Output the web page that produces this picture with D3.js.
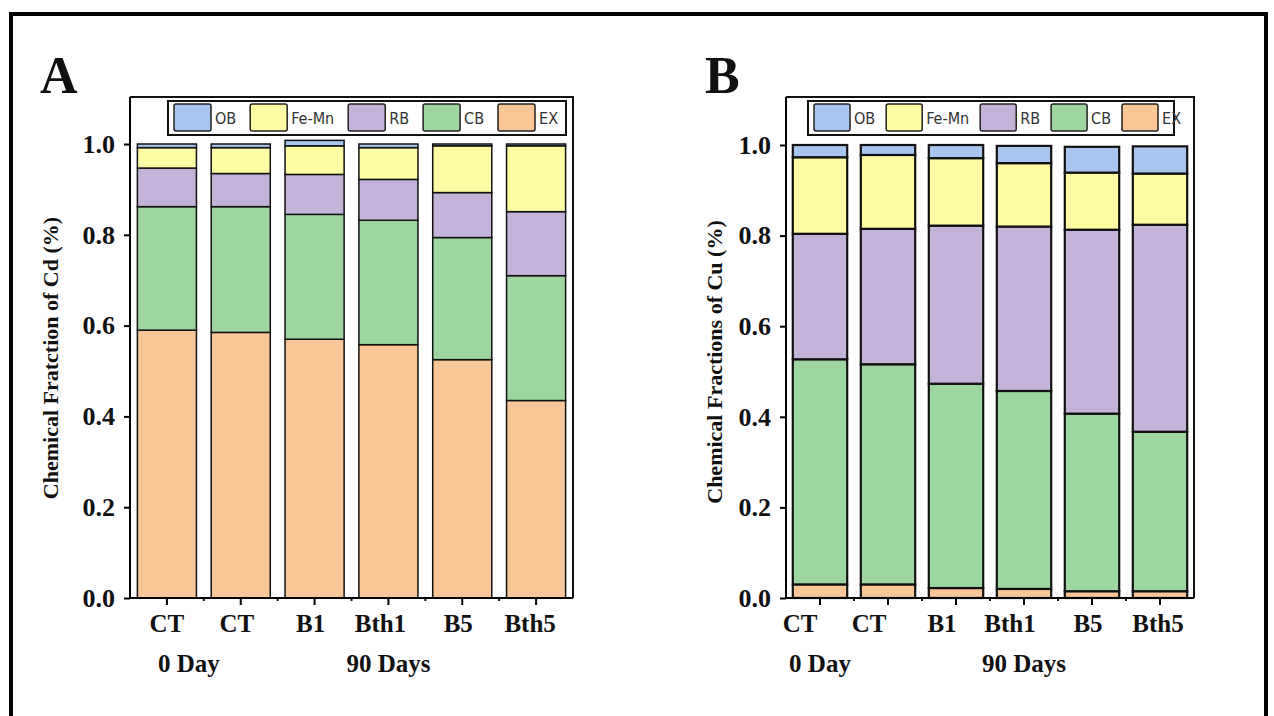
<!DOCTYPE html>
<html>
<head>
<meta charset="utf-8">
<script src="https://cdn.jsdelivr.net/npm/d3@7"></script>
<style>
	html, body { margin: 0; padding: 0; background: #fff; }
	svg { display: block; }
</style>
</head>
<body>
<svg id="chart" width="1274" height="716"></svg>
<script>
var categories = ['CT', 'CT', 'B1', 'Bth1', 'B5', 'Bth5'];
var fractions = ['EX', 'CB', 'RB', 'Fe-Mn', 'OB']; // bottom -> top
var legendOrder = ['OB', 'Fe-Mn', 'RB', 'CB', 'EX'];
var groupLabels = ['0 Day', '90 Days'];
var groupAt = [0, 3];
var yTicks = [0, 0.2, 0.4, 0.6, 0.8, 1.0];

// Cd (panel A)
var cdEX = [0.590, 0.585, 0.570, 0.558, 0.525, 0.435];
var cdCB = [0.272, 0.277, 0.275, 0.274, 0.269, 0.275];
var cdRB = [0.085, 0.073, 0.088, 0.090, 0.099, 0.141];
var cdFeMn = [0.045, 0.057, 0.063, 0.070, 0.103, 0.145];
var cdOB = [0.008, 0.008, 0.012, 0.008, 0.004, 0.004];

// Cu (panel B)
var cuEX = [0.030, 0.030, 0.022, 0.020, 0.015, 0.015];
var cuCB = [0.497, 0.486, 0.451, 0.437, 0.392, 0.352];
var cuRB = [0.277, 0.299, 0.349, 0.363, 0.406, 0.457];
var cuFeMn = [0.169, 0.163, 0.149, 0.140, 0.126, 0.113];
var cuOB = [0.027, 0.022, 0.029, 0.038, 0.057, 0.060];

var colors = { 'OB': '#a7c5ef', 'Fe-Mn': '#fdfba3', 'RB': '#c3b3d9', 'CB': '#9dd69e', 'EX': '#f8c697' };

var serif = "'Liberation Serif', 'Times New Roman', serif";
var narrow = "'Liberation Sans Narrow', 'DejaVu Sans Condensed', 'Liberation Sans', sans-serif";

var svg = d3.select('#chart');

// outer frame
svg.append('path')
	.attr('d', 'M11,716 L11,14 L1266,14 L1266,716')
	.attr('fill', 'none')
	.attr('stroke', '#000')
	.attr('stroke-width', 4);

function drawPanel(cfg) {
	var g = svg.append('g');
	var rows = categories.map(function(c, i) {
		var r = { i: i, cat: c };
		fractions.forEach(function(f) { r[f] = cfg.values[f][i]; });
		return r;
	});

	var x = d3.scaleBand().domain(d3.range(categories.length))
		.range([cfg.left, cfg.right]).paddingInner(0.2).paddingOuter(0.1);
	var y = d3.scaleLinear().domain([0, 1]).range([cfg.y0, cfg.y1]);

	var series = d3.stack().keys(fractions)(rows);

	// bars
	g.selectAll('g.layer')
		.data(series)
		.enter().append('g')
		.attr('class', 'layer')
		.attr('fill', function(d) { return colors[d.key]; })
		.selectAll('rect')
		.data(function(d) { return d; })
		.enter().append('rect')
		.attr('x', function(d) { return x(d.data.i); })
		.attr('width', x.bandwidth())
		.attr('y', function(d) { return y(d[1]); })
		.attr('height', function(d) { return Math.max(0, y(d[0]) - y(d[1])); })
		.attr('stroke', '#111')
		.attr('stroke-width', cfg.barStroke);

	// frame (top + right)
	g.append('path')
		.attr('d', 'M' + cfg.left + ',' + cfg.top + 'H' + cfg.right + 'V' + cfg.y0)
		.attr('fill', 'none').attr('stroke', '#111').attr('stroke-width', 2);

	// y axis
	var yAxis = g.append('g')
		.attr('transform', 'translate(' + cfg.left + ',0)')
		.call(d3.axisLeft(y).tickValues(yTicks).tickFormat(d3.format('.1f')).tickSize(6).tickPadding(9));
	yAxis.select('.domain').attr('d', 'M0,' + cfg.y0 + 'V' + cfg.top).attr('stroke-width', 2);
	yAxis.selectAll('.tick line').attr('stroke-width', 2);
	yAxis.selectAll('.tick text')
		.attr('font-family', serif).attr('font-weight', 'bold').attr('font-size', 26).attr('fill', '#111');

	// x axis
	var xAxis = g.append('g')
		.attr('transform', 'translate(0,' + cfg.y0 + ')')
		.call(d3.axisBottom(x).tickSize(7).tickFormat(function(i) { return categories[i]; }).tickPadding(9));
	xAxis.select('.domain').attr('d', 'M' + cfg.left + ',0H' + cfg.right).attr('stroke-width', 2);
	xAxis.selectAll('.tick line').attr('stroke-width', 2);
	xAxis.selectAll('.tick text')
		.attr('font-family', serif).attr('font-weight', 'bold').attr('font-size', 25).attr('fill', '#111')
		.attr('dx', function(i) { return cfg.labelShift[i]; });

	// minor ticks between bars
	g.selectAll('line.minor')
		.data(d3.range(1, categories.length))
		.enter().append('line')
		.attr('x1', function(i) { return x(i) - x.step() * x.paddingInner() / 2; })
		.attr('x2', function(i) { return x(i) - x.step() * x.paddingInner() / 2; })
		.attr('y1', cfg.y0).attr('y2', cfg.y0 + 3)
		.attr('stroke', '#111').attr('stroke-width', 2);

	// group labels
	g.selectAll('text.group')
		.data(groupLabels)
		.enter().append('text')
		.attr('x', function(d, k) { return x(groupAt[k]) + x.bandwidth() / 2 + cfg.groupShift[k]; })
		.attr('y', cfg.y0 + 74)
		.attr('text-anchor', 'middle')
		.attr('font-family', serif).attr('font-weight', 'bold').attr('font-size', 25).attr('fill', '#111')
		.text(function(d) { return d; });

	// y title
	g.append('text')
		.attr('transform', 'translate(' + cfg.titleX + ',' + cfg.titleY + ') rotate(-90)')
		.attr('text-anchor', 'middle')
		.attr('font-family', serif).attr('font-weight', 'bold').attr('font-size', 22).attr('fill', '#111')
		.text(cfg.title);

	// panel letter
	g.append('text')
		.attr('x', cfg.letterX).attr('y', 93)
		.attr('font-family', serif).attr('font-weight', 'bold').attr('font-size', 52).attr('fill', '#111')
		.text(cfg.letter);

	// legend
	var lg = g.append('g');
	lg.append('rect')
		.attr('x', cfg.legend.x).attr('y', cfg.legend.y)
		.attr('width', cfg.legend.w).attr('height', cfg.legend.h)
		.attr('fill', '#fff').attr('stroke', '#111').attr('stroke-width', 2);
	var lx = cfg.legend.x + 6;
	legendOrder.forEach(function(k) {
		lg.append('rect')
			.attr('x', lx).attr('y', cfg.legend.y + 3)
			.attr('width', cfg.legend.sw).attr('height', cfg.legend.h - 7)
			.attr('rx', 2)
			.attr('fill', colors[k]).attr('stroke', '#222').attr('stroke-width', 1.5);
		var t = lg.append('text')
			.attr('x', lx + cfg.legend.sw + 4).attr('y', cfg.legend.y + cfg.legend.h / 2 + 6)
			.attr('font-family', narrow).attr('font-size', 16).attr('fill', '#333')
			.text(k);
		lx += cfg.legend.sw + 4 + t.node().getComputedTextLength() + cfg.legend.gap;
	});
}

drawPanel({
	letter: 'A', letterX: 40, title: 'Chemical Fratction of Cd (%)', titleX: 58, titleY: 358,
	left: 130, right: 573, top: 97, y0: 598, y1: 144, barStroke: 1.5,
	values: { 'EX': cdEX, 'CB': cdCB, 'RB': cdRB, 'Fe-Mn': cdFeMn, 'OB': cdOB },
	labelShift: [0, -4, -4, -8, -4, -6], groupShift: [22, 0],
	legend: { x: 168, y: 101, w: 398, h: 34, sw: 37, gap: 14 }
});

drawPanel({
	letter: 'B', letterX: 705, title: 'Chemical Fractions of Cu (%)', titleX: 722, titleY: 362,
	left: 786, right: 1194, top: 97, y0: 598, y1: 145, barStroke: 2.2,
	values: { 'EX': cuEX, 'CB': cuCB, 'RB': cuRB, 'Fe-Mn': cuFeMn, 'OB': cuOB },
	labelShift: [-20, -19, -14, -14, -4, -2], groupShift: [0, 0],
	legend: { x: 808, y: 101, w: 366, h: 34, sw: 36, gap: 11 }
});
</script>
</body>
</html>
